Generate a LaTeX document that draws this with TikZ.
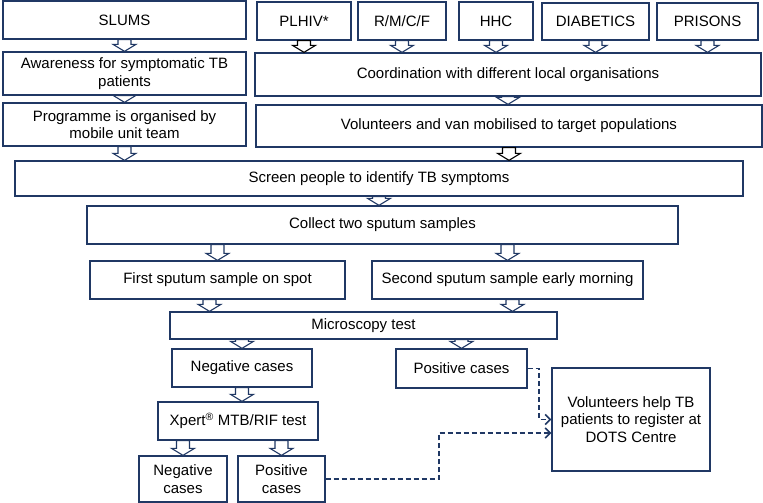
\documentclass[tikz,border=0pt]{standalone}
\usepackage{fontspec}
\setmainfont{Liberation Sans}
\usetikzlibrary{calc,arrows.meta}
\definecolor{navy}{RGB}{32,56,100}
\tikzset{
  box/.style={draw=navy, line width=1.3pt, fill=white, inner sep=1pt, align=center,
    font=\fontsize{15}{17.5}\selectfont, text=black},
  dashconn/.style={draw=navy, line width=1.6pt, dash pattern=on 5pt off 3pt,
    -{Straight Barb[length=5pt,width=10pt,line width=1.6pt]}},
  barrow/.style={draw=navy, line width=1.1pt, fill=white, line join=miter}
}
% box by corners (pixel units, y down)
\newcommand\bx[6]{\node[box, minimum width={#4-#2}, minimum height={#5-#3}]
  (#1) at ({(#2+#4)/2},{(#3+#5)/2}) {#6};}
% block arrow: x and start y from #2, end y from #3
\newcommand\barr[3][]{\path[barrow,#1] let \p1=(#2), \p2=(#3) in
  (\x1-6.5pt,\y1) -- (\x1-6.5pt,\y2+7pt) -- (\x1-11.5pt,\y2+7pt) -- (\x1,\y2)
  -- (\x1+11.5pt,\y2+7pt) -- (\x1+6.5pt,\y2+7pt) -- (\x1+6.5pt,\y1) -- cycle;}
\begin{document}
\begin{tikzpicture}[x=1pt,y=-1pt]
\useasboundingbox (0,0) rectangle (763,503);
\fill[white] (0,0) rectangle (763,503);
% top row
\bx{slums}{3}{1}{246}{39}{SLUMS}
\bx{plhiv}{257}{2}{351}{40}{PLHIV*}
\bx{rmcf}{358}{2}{446}{40}{R/M/C/F}
\bx{hhc}{459}{2}{533}{40}{HHC}
\bx{diab}{542}{3}{649}{40}{DIABETICS}
\bx{prisons}{657}{3}{758}{40}{PRISONS}
% second & third rows
\bx{aware}{3}{52}{246}{95}{Awareness for symptomatic TB\\patients}
\bx{coord}{255}{53}{761}{96}{Coordination with different local organisations}
\bx{prog}{3}{103}{246}{146}{Programme is organised by\\mobile unit team}
\bx{vol}{256}{105}{762}{147}{Volunteers and van mobilised to target populations}
% middle
\bx{screen}{15}{161}{743}{196}{Screen people to identify TB symptoms}
\bx{collect}{87}{206}{678}{244}{Collect two sputum samples}
\bx{first}{90}{261}{345}{299}{First sputum sample on spot}
\bx{second}{372}{261}{643}{299}{Second sputum sample early morning}
\bx{micro}{170}{312}{557}{339}{Microscopy test}
\bx{neg1}{172}{349}{312}{387}{Negative cases}
\bx{pos1}{396}{349}{527}{388}{Positive cases}
\bx{xpert}{158}{402}{318}{440}{Xpert\textsuperscript{®} MTB/RIF test}
\bx{neg2}{139}{456}{227}{502}{Negative\\cases}
\bx{pos2}{238}{456}{325}{502}{Positive\\cases}
\bx{dots}{552}{368}{710}{471}{Volunteers help TB\\patients to register at\\DOTS Centre}
% block arrows
\barr{slums.south}{aware.north}
\barr{aware.south}{prog.north}
\barr{prog.south}{screen.north}
\barr[draw=black]{plhiv.south}{coord.north}
\barr{rmcf.south}{coord.north}
\barr{hhc.south}{coord.north}
\barr{diab.south}{coord.north}
\barr{prisons.south}{coord.north}
\barr{coord.south}{vol.north}
\barr[draw=black]{vol.south}{screen.north}
\barr{screen.south}{collect.north}
\barr{first.north |- collect.south}{first.north}
\barr{second.north |- collect.south}{second.north}
\barr{$(first.south)+(-8,0)$}{micro.north}
\barr{$(second.south)+(5,0)$}{micro.north}
\barr{neg1.north |- micro.south}{neg1.north}
\barr{pos1.north |- micro.south}{pos1.north}
\barr{neg1.south}{xpert.north}
\barr{neg2.north |- xpert.south}{neg2.north}
\barr{$(pos2.north |- xpert.south)+(0,0)$}{pos2.north}
% dashed connectors
\coordinate (j1) at (539,0);
\coordinate (j2) at (439,433);
\draw[dashconn] (pos1.east) -- (pos1.east -| j1) |- (dots.west);
\draw[dashconn] (pos2.east) -| (j2) -- (j2 -| dots.west);
\end{tikzpicture}
\end{document}
